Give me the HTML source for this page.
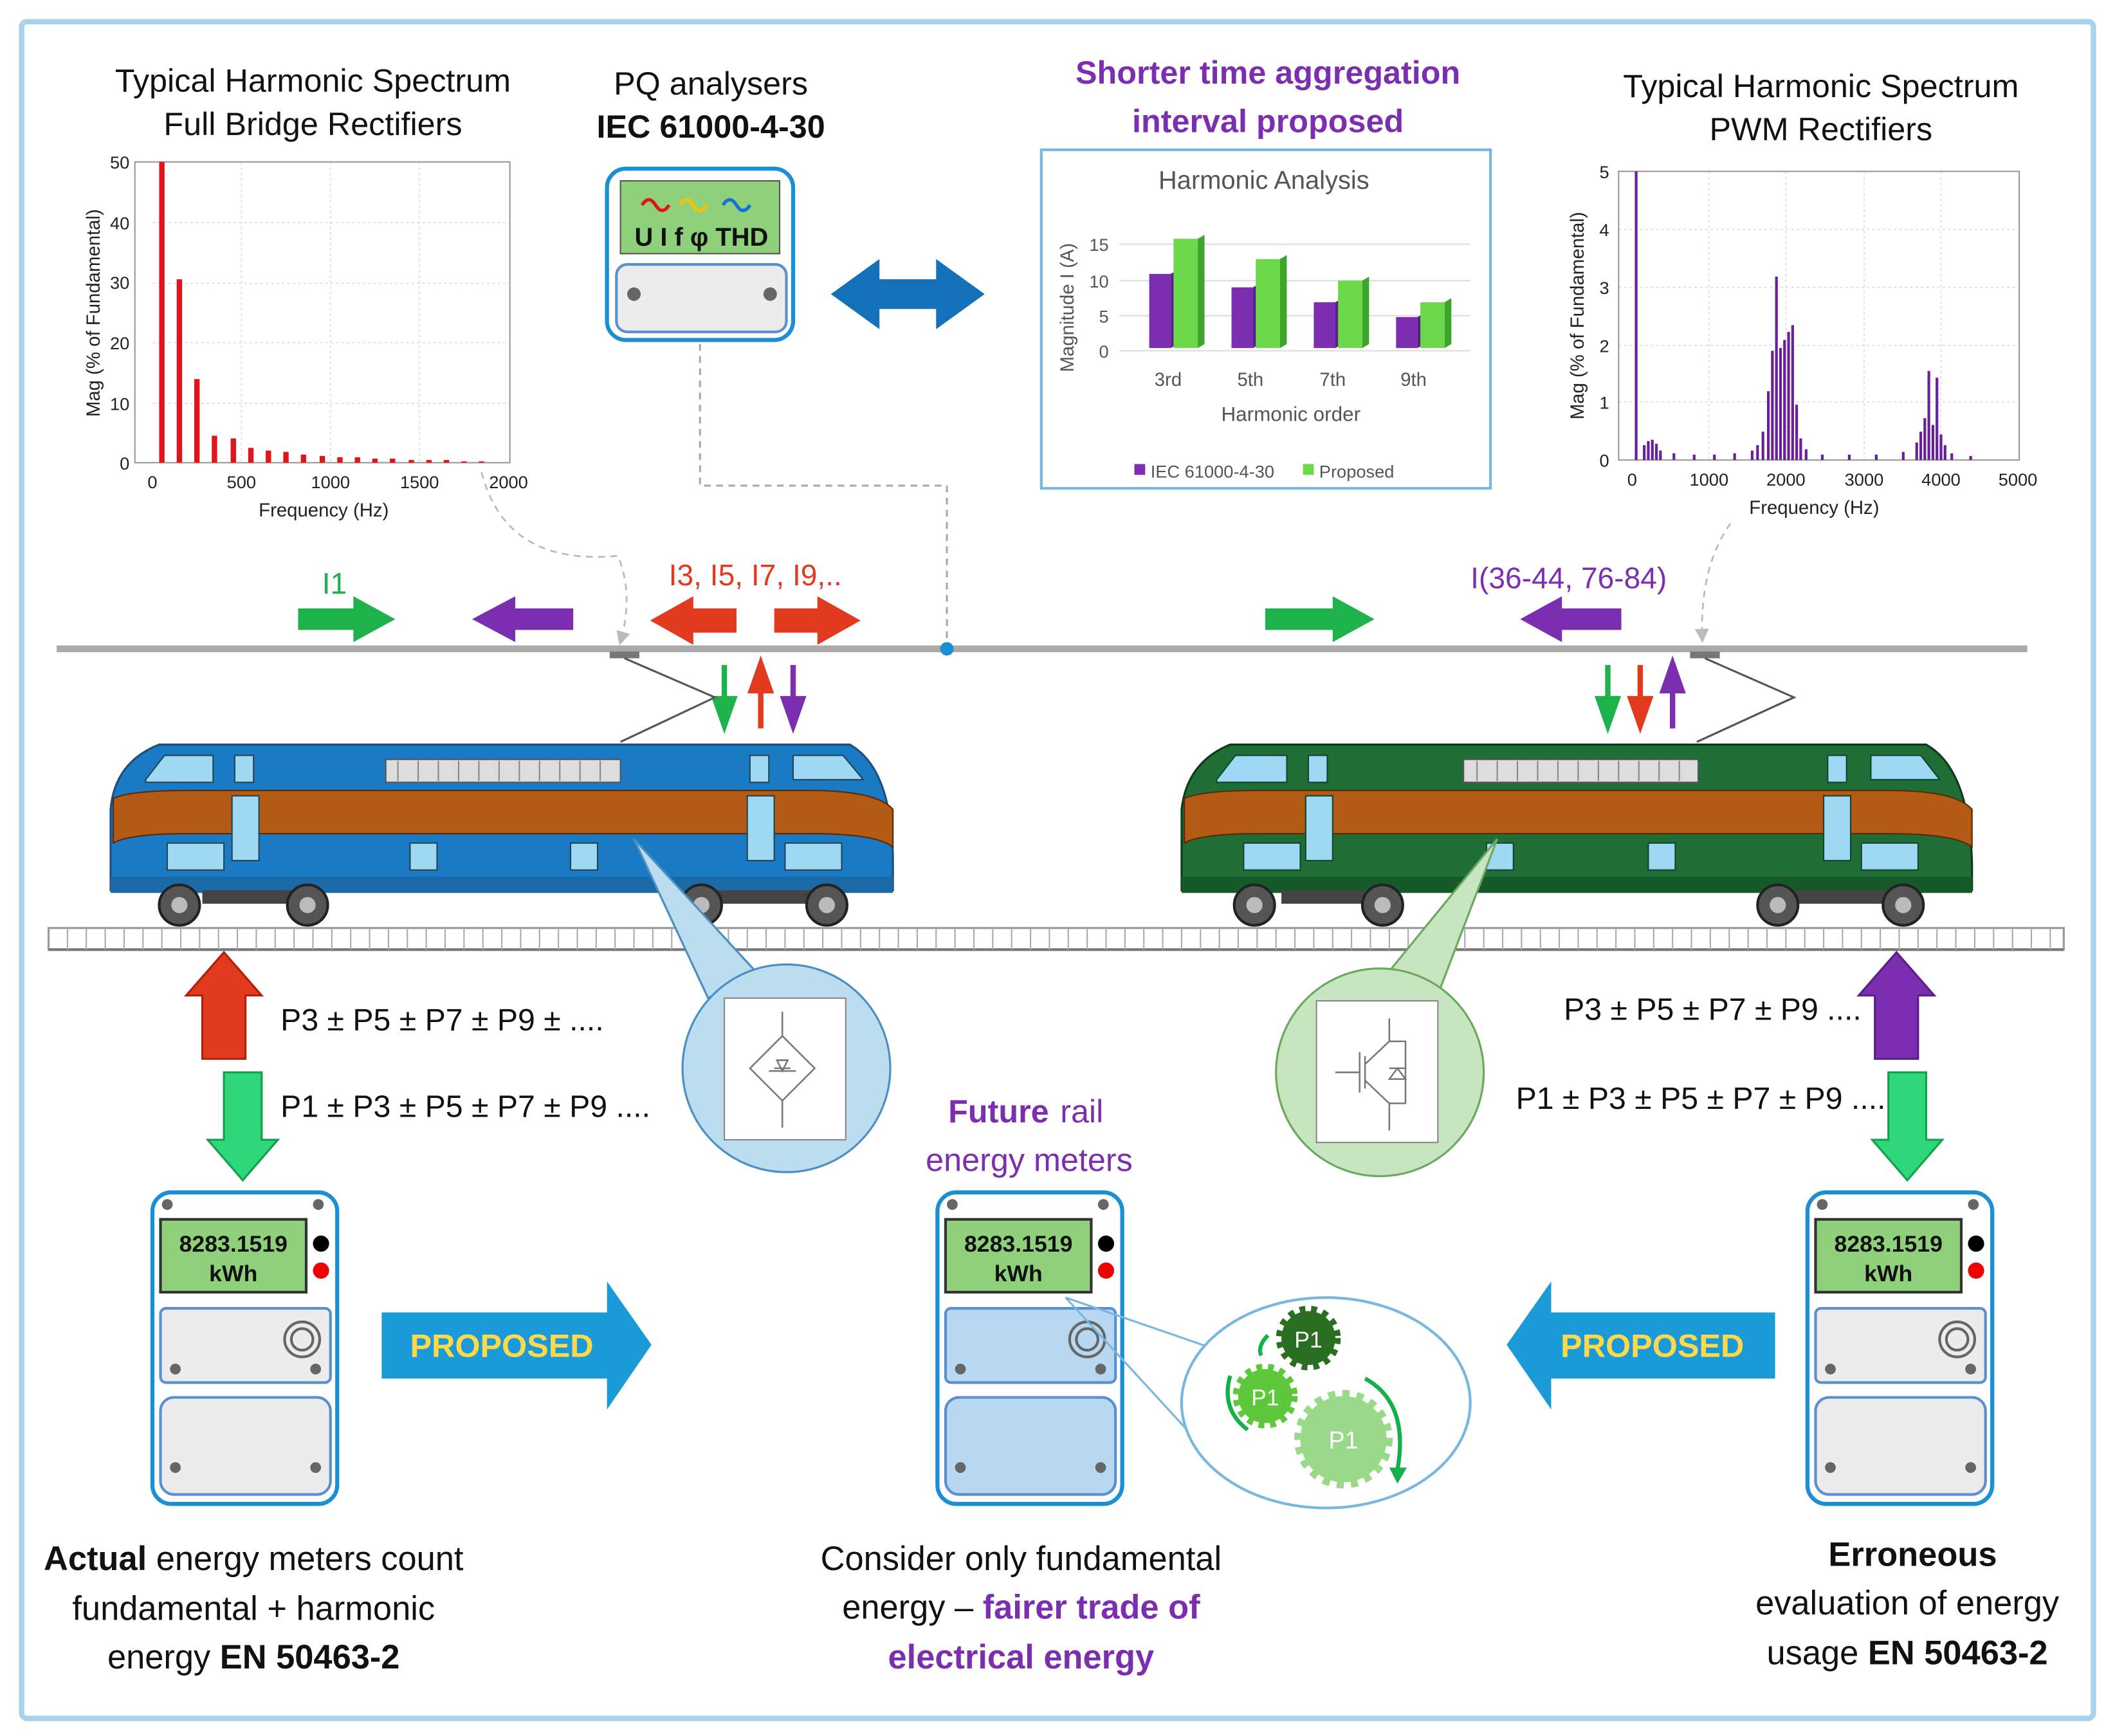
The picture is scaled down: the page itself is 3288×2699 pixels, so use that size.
<!DOCTYPE html>
<html><head><meta charset="utf-8"><style>
html,body{margin:0;padding:0;background:#fff}
svg{display:block}
text{font-family:"Liberation Sans",sans-serif}
</style></head><body>
<svg width="3288" height="2699" viewBox="0 0 1568 1287" xmlns="http://www.w3.org/2000/svg">
<defs>
<marker id="ah" markerWidth="8" markerHeight="8" refX="6" refY="4" orient="auto"><path d="M0,0 L8,4 L0,8 z" fill="#bbb"/></marker>
</defs>
<rect x="16" y="16" width="1536" height="1258" rx="4" fill="#fff" stroke="#a9d3ec" stroke-width="4"/>

<!-- Left chart -->
<text x="232" y="68" font-size="24" text-anchor="middle" fill="#111">Typical Harmonic Spectrum</text>
<text x="232" y="100" font-size="24" text-anchor="middle" fill="#111">Full Bridge Rectifiers</text>
<g stroke="#e3e3e3" stroke-width="1" stroke-dasharray="2,2">
<line x1="113" y1="165" x2="378" y2="165"/><line x1="113" y1="210" x2="378" y2="210"/><line x1="113" y1="254" x2="378" y2="254"/><line x1="113" y1="299" x2="378" y2="299"/>
<line x1="179" y1="120" x2="179" y2="343"/><line x1="245" y1="120" x2="245" y2="343"/><line x1="311" y1="120" x2="311" y2="343"/>
</g>
<rect x="100" y="120" width="278" height="223" fill="none" stroke="#999" stroke-width="1"/>
<g fill="#e0141a">
<rect x="118" y="120" width="4" height="223"/><rect x="131" y="207" width="4" height="136"/><rect x="144" y="281" width="4" height="62"/><rect x="157" y="323" width="4" height="20"/><rect x="171" y="325" width="4" height="18"/><rect x="184" y="332" width="4" height="11"/><rect x="197" y="334" width="4" height="9"/><rect x="210" y="335" width="4" height="8"/><rect x="223" y="337" width="4" height="6"/><rect x="237" y="338" width="4" height="5"/><rect x="250" y="339" width="4" height="4"/><rect x="263" y="339" width="4" height="4"/><rect x="276" y="340" width="4" height="3"/><rect x="289" y="340" width="4" height="3"/><rect x="303" y="341" width="4" height="2"/><rect x="316" y="341" width="4" height="2"/><rect x="329" y="341" width="4" height="2"/><rect x="342" y="342" width="4" height="1"/><rect x="355" y="342" width="4" height="1"/>
</g>
<g font-size="13" fill="#222" text-anchor="end">
<text x="96" y="125">50</text><text x="96" y="170">40</text><text x="96" y="214">30</text><text x="96" y="259">20</text><text x="96" y="304">10</text><text x="96" y="348">0</text>
</g>
<g font-size="13" fill="#222" text-anchor="middle">
<text x="113" y="362">0</text><text x="179" y="362">500</text><text x="245" y="362">1000</text><text x="311" y="362">1500</text><text x="377" y="362">2000</text>
</g>
<text x="240" y="383" font-size="14" text-anchor="middle" fill="#222">Frequency (Hz)</text>
<text transform="translate(74,232) rotate(-90)" font-size="14" text-anchor="middle" fill="#222">Mag (% of Fundamental)</text>

<!-- PQ analyser -->
<text x="527" y="70" font-size="24" text-anchor="middle" fill="#111">PQ analysers</text>
<text x="527" y="102" font-size="24" font-weight="bold" text-anchor="middle" fill="#111">IEC 61000-4-30</text>
<rect x="450" y="125" width="138" height="127" rx="14" fill="#fff" stroke="#1a8fd6" stroke-width="3"/>
<rect x="460" y="134" width="118" height="54" fill="#8fd17a" stroke="#555" stroke-width="1"/>
<path d="M476,152 q5,-8 10,0 t10,0" fill="none" stroke="#e0141a" stroke-width="2.5"/>
<path d="M504,152 q5,-8 10,0 t10,0" fill="none" stroke="#f5c400" stroke-width="2.5"/>
<path d="M536,152 q5,-8 10,0 t10,0" fill="none" stroke="#1a6fd6" stroke-width="2.5"/>
<text x="520" y="182" font-size="19" font-weight="bold" text-anchor="middle" fill="#111">U I f φ THD</text>
<rect x="457" y="196" width="126" height="50" rx="8" fill="#ececec" stroke="#5b8fd0" stroke-width="2"/>
<circle cx="470" cy="218" r="5" fill="#666"/><circle cx="571" cy="218" r="5" fill="#666"/>
<path d="M519,255 V360 H702 V478" fill="none" stroke="#aaa" stroke-width="1.5" stroke-dasharray="5,4"/>

<!-- double arrow -->
<path d="M616,218 L652,192 L652,207 L694,207 L694,192 L730,218 L694,244 L694,229 L652,229 L652,244 z" fill="#1470b8"/>

<!-- Harmonic analysis -->
<text x="940" y="62" font-size="24" font-weight="bold" text-anchor="middle" fill="#7b2fb0">Shorter time aggregation</text>
<text x="940" y="98" font-size="24" font-weight="bold" text-anchor="middle" fill="#7b2fb0">interval proposed</text>
<rect x="772" y="111" width="333" height="251" fill="#fff" stroke="#7ab7e0" stroke-width="2"/>
<text x="937" y="140" font-size="19" text-anchor="middle" fill="#555">Harmonic Analysis</text>
<g stroke="#ddd" stroke-width="1"><line x1="830" y1="260" x2="1090" y2="260"/><line x1="830" y1="234" x2="1090" y2="234"/><line x1="830" y1="208" x2="1090" y2="208"/><line x1="830" y1="181" x2="1090" y2="181"/></g>
<g font-size="13" fill="#555" text-anchor="end"><text x="822" y="265">0</text><text x="822" y="239">5</text><text x="822" y="213">10</text><text x="822" y="186">15</text></g>
<g>
<rect x="852" y="203" width="16" height="55" fill="#7b2fb0"/><polygon points="868,203 873,200 873,255 868,258" fill="#5a1f85"/>
<rect x="870" y="177" width="18" height="81" fill="#6cd94a"/><polygon points="888,177 893,174 893,255 888,258" fill="#3fa52a"/>
<rect x="913" y="213" width="16" height="45" fill="#7b2fb0"/><polygon points="929,213 934,210 934,255 929,258" fill="#5a1f85"/>
<rect x="931" y="192" width="18" height="66" fill="#6cd94a"/><polygon points="949,192 954,189 954,255 949,258" fill="#3fa52a"/>
<rect x="974" y="224" width="16" height="34" fill="#7b2fb0"/><polygon points="990,224 995,221 995,255 990,258" fill="#5a1f85"/>
<rect x="992" y="208" width="18" height="50" fill="#6cd94a"/><polygon points="1010,208 1015,205 1015,255 1010,258" fill="#3fa52a"/>
<rect x="1035" y="235" width="16" height="23" fill="#7b2fb0"/><polygon points="1051,235 1056,232 1056,255 1051,258" fill="#5a1f85"/>
<rect x="1053" y="224" width="18" height="34" fill="#6cd94a"/><polygon points="1071,224 1076,221 1076,255 1071,258" fill="#3fa52a"/>
</g>
<g font-size="14" fill="#555" text-anchor="middle"><text x="866" y="286">3rd</text><text x="927" y="286">5th</text><text x="988" y="286">7th</text><text x="1048" y="286">9th</text></g>
<text x="957" y="312" font-size="15" text-anchor="middle" fill="#555">Harmonic order</text>
<text transform="translate(796,228) rotate(-90)" font-size="14" text-anchor="middle" fill="#555">Magnitude I (A)</text>
<rect x="841" y="344" width="8" height="8" fill="#7b2fb0"/><text x="853" y="354" font-size="13" fill="#555">IEC 61000-4-30</text>
<rect x="966" y="344" width="8" height="8" fill="#6cd94a"/><text x="978" y="354" font-size="13" fill="#555">Proposed</text>

<!-- Right chart -->
<text x="1350" y="72" font-size="24" text-anchor="middle" fill="#111">Typical Harmonic Spectrum</text>
<text x="1350" y="104" font-size="24" text-anchor="middle" fill="#111">PWM Rectifiers</text>
<g stroke="#e3e3e3" stroke-width="1" stroke-dasharray="2,2">
<line x1="1200" y1="170" x2="1497" y2="170"/><line x1="1200" y1="213" x2="1497" y2="213"/><line x1="1200" y1="256" x2="1497" y2="256"/><line x1="1200" y1="298" x2="1497" y2="298"/>
<line x1="1267" y1="127" x2="1267" y2="341"/><line x1="1324" y1="127" x2="1324" y2="341"/><line x1="1382" y1="127" x2="1382" y2="341"/><line x1="1439" y1="127" x2="1439" y2="341"/>
</g>
<rect x="1200" y="127" width="297" height="214" fill="none" stroke="#999" stroke-width="1"/>
<g fill="#6a1f9a">
<rect x="1212" y="127" width="2" height="214"/>
<rect x="1218" y="330" width="2" height="11"/><rect x="1221" y="327" width="2" height="14"/><rect x="1224" y="326" width="2" height="15"/><rect x="1227" y="329" width="2" height="12"/><rect x="1230" y="334" width="2" height="7"/>
<rect x="1240" y="336" width="2" height="5"/><rect x="1255" y="337" width="2" height="4"/><rect x="1270" y="337" width="2" height="4"/><rect x="1285" y="336" width="2" height="5"/>
<rect x="1298" y="334" width="2" height="7"/><rect x="1302" y="330" width="2" height="11"/><rect x="1306" y="320" width="2" height="21"/><rect x="1310" y="290" width="2" height="51"/><rect x="1313" y="260" width="2" height="81"/><rect x="1316" y="205" width="2" height="136"/><rect x="1319" y="258" width="2" height="83"/><rect x="1322" y="252" width="2" height="89"/><rect x="1325" y="246" width="2" height="95"/><rect x="1328" y="241" width="2" height="100"/><rect x="1331" y="300" width="2" height="41"/><rect x="1334" y="325" width="2" height="16"/><rect x="1338" y="333" width="2" height="8"/>
<rect x="1350" y="337" width="2" height="4"/><rect x="1370" y="337" width="2" height="4"/><rect x="1390" y="337" width="2" height="4"/><rect x="1410" y="335" width="2" height="6"/>
<rect x="1420" y="328" width="2" height="13"/><rect x="1423" y="320" width="2" height="21"/><rect x="1426" y="310" width="2" height="31"/><rect x="1429" y="275" width="2" height="66"/><rect x="1432" y="315" width="2" height="26"/><rect x="1435" y="280" width="2" height="61"/><rect x="1438" y="322" width="2" height="19"/><rect x="1441" y="330" width="2" height="11"/><rect x="1446" y="336" width="2" height="5"/><rect x="1460" y="338" width="2" height="3"/>
</g>
<g font-size="13" fill="#222" text-anchor="end">
<text x="1193" y="132">5</text><text x="1193" y="175">4</text><text x="1193" y="218">3</text><text x="1193" y="261">2</text><text x="1193" y="303">1</text><text x="1193" y="346">0</text>
</g>
<g font-size="13" fill="#222" text-anchor="middle">
<text x="1210" y="360">0</text><text x="1267" y="360">1000</text><text x="1324" y="360">2000</text><text x="1382" y="360">3000</text><text x="1439" y="360">4000</text><text x="1496" y="360">5000</text>
</g>
<text x="1345" y="381" font-size="14" text-anchor="middle" fill="#222">Frequency (Hz)</text>
<text transform="translate(1174,234) rotate(-90)" font-size="14" text-anchor="middle" fill="#222">Mag (% of Fundamental)</text>

<!-- dashed connectors to pantographs -->
<path d="M357,350 Q375,420 458,412 Q470,440 460,476" fill="none" stroke="#bbb" stroke-width="1.3" stroke-dasharray="5,4" marker-end="url(#ah)"/>
<path d="M1283,388 Q1260,420 1262,474" fill="none" stroke="#bbb" stroke-width="1.3" stroke-dasharray="5,4" marker-end="url(#ah)"/>

<!-- catenary -->
<line x1="42" y1="481" x2="1503" y2="481" stroke="#aaa" stroke-width="5"/>
<circle cx="702" cy="481" r="5" fill="#1a8fd6"/>

<!-- current arrows -->
<text x="248" y="440" font-size="22" text-anchor="middle" fill="#1db34a">I1</text>
<path d="M221,451 H262 V442 L293,459 L262,476 V467 H221 z" fill="#1db34a"/>
<path d="M425,451 H382 V442 L350,459 L382,476 V467 H425 z" fill="#7b2fb0"/>
<text x="560" y="434" font-size="22" text-anchor="middle" fill="#e23a1e">I3, I5, I7, I9,..</text>
<path d="M546,451 H514 V442 L482,460 L514,478 V469 H546 z" fill="#e23a1e"/>
<path d="M574,451 H606 V442 L638,460 L606,478 V469 H574 z" fill="#e23a1e"/>
<path d="M938,451 H988 V442 L1019,459 L988,476 V467 H938 z" fill="#1db34a"/>
<text x="1163" y="436" font-size="22" text-anchor="middle" fill="#7b2fb0">I(36-44, 76-84)</text>
<path d="M1202,451 H1158 V442 L1127,459 L1158,476 V467 H1202 z" fill="#7b2fb0"/>
<!-- vertical small arrows -->
<path d="M537,493 V522 M530,518 L537,538 L544,518 z" stroke="#1db34a" stroke-width="4" fill="#1db34a"/>
<path d="M564,540 V510 M557,512 L564,492 L571,512 z" stroke="#e23a1e" stroke-width="4" fill="#e23a1e"/>
<path d="M588,493 V522 M581,518 L588,538 L595,518 z" stroke="#7b2fb0" stroke-width="4" fill="#7b2fb0"/>
<path d="M1192,493 V522 M1185,518 L1192,538 L1199,518 z" stroke="#1db34a" stroke-width="4" fill="#1db34a"/>
<path d="M1216,493 V522 M1209,518 L1216,538 L1223,518 z" stroke="#e23a1e" stroke-width="4" fill="#e23a1e"/>
<path d="M1240,540 V510 M1233,512 L1240,492 L1247,512 z" stroke="#7b2fb0" stroke-width="4" fill="#7b2fb0"/>

<!-- pantographs -->
<rect x="452" y="483" width="22" height="5" fill="#777"/>
<path d="M463,488 L530,517 L460,550" fill="none" stroke="#555" stroke-width="1.5"/>
<rect x="1253" y="483" width="22" height="5" fill="#777"/>
<path d="M1264,488 L1330,517 L1258,550" fill="none" stroke="#555" stroke-width="1.5"/>

<!-- Blue train -->
<g>
<path d="M118,552 H630 Q662,570 662,640 V660 H82 V600 Q85,565 118,552 z" fill="#1a7ac4" stroke="#1d4e80" stroke-width="1.5"/>
<path d="M84,592 Q96,586 140,586 H600 Q650,586 662,600 V628 Q650,618 600,618 H140 Q96,618 84,625 z" fill="#b35a14" stroke="#5a2a05" stroke-width="1"/>
<rect x="286" y="563" width="174" height="17" fill="#ddd" stroke="#555" stroke-width="1"/>
<g stroke="#888" stroke-width="1"><line x1="295" y1="564" x2="295" y2="579"/><line x1="310" y1="564" x2="310" y2="579"/><line x1="325" y1="564" x2="325" y2="579"/><line x1="340" y1="564" x2="340" y2="579"/><line x1="355" y1="564" x2="355" y2="579"/><line x1="370" y1="564" x2="370" y2="579"/><line x1="385" y1="564" x2="385" y2="579"/><line x1="400" y1="564" x2="400" y2="579"/><line x1="415" y1="564" x2="415" y2="579"/><line x1="430" y1="564" x2="430" y2="579"/><line x1="445" y1="564" x2="445" y2="579"/></g>
<g fill="#9fd8f2" stroke="#245" stroke-width="1">
<path d="M108,578 L122,560 H158 V580 H108 z"/><rect x="174" y="560" width="14" height="20"/><rect x="556" y="560" width="14" height="20"/><path d="M588,560 H625 L640,578 H588 z"/>
<rect x="172" y="590" width="20" height="48"/><rect x="554" y="590" width="20" height="48"/>
<rect x="124" y="625" width="42" height="20"/><rect x="304" y="625" width="20" height="20"/><rect x="423" y="625" width="20" height="20"/><rect x="582" y="625" width="42" height="20"/>
</g>
<rect x="82" y="650" width="580" height="12" fill="#1a6aa8"/>
<g fill="#444"><rect x="150" y="660" width="70" height="10"/><rect x="510" y="660" width="100" height="10"/></g>
<g fill="#555" stroke="#222" stroke-width="2"><circle cx="133" cy="671" r="15"/><circle cx="228" cy="671" r="15"/><circle cx="520" cy="671" r="15"/><circle cx="613" cy="671" r="15"/></g>
<g fill="#bbb"><circle cx="133" cy="671" r="6"/><circle cx="228" cy="671" r="6"/><circle cx="520" cy="671" r="6"/><circle cx="613" cy="671" r="6"/></g>
</g>

<!-- Green train -->
<g>
<path d="M912,552 H1428 Q1460,570 1462,640 V660 H876 V600 Q880,565 912,552 z" fill="#1f6e35" stroke="#0d3a18" stroke-width="1.5"/>
<path d="M878,592 Q890,586 934,586 H1400 Q1450,586 1462,600 V628 Q1450,618 1400,618 H934 Q890,618 878,625 z" fill="#b35a14" stroke="#5a2a05" stroke-width="1"/>
<rect x="1085" y="563" width="174" height="17" fill="#ddd" stroke="#555" stroke-width="1"/>
<g stroke="#888" stroke-width="1"><line x1="1095" y1="564" x2="1095" y2="579"/><line x1="1110" y1="564" x2="1110" y2="579"/><line x1="1125" y1="564" x2="1125" y2="579"/><line x1="1140" y1="564" x2="1140" y2="579"/><line x1="1155" y1="564" x2="1155" y2="579"/><line x1="1170" y1="564" x2="1170" y2="579"/><line x1="1185" y1="564" x2="1185" y2="579"/><line x1="1200" y1="564" x2="1200" y2="579"/><line x1="1215" y1="564" x2="1215" y2="579"/><line x1="1230" y1="564" x2="1230" y2="579"/><line x1="1245" y1="564" x2="1245" y2="579"/></g>
<g fill="#9fd8f2" stroke="#143" stroke-width="1">
<path d="M902,578 L916,560 H954 V580 H902 z"/><rect x="970" y="560" width="14" height="20"/><rect x="1355" y="560" width="14" height="20"/><path d="M1387,560 H1424 L1438,578 H1387 z"/>
<rect x="968" y="590" width="20" height="48"/><rect x="1352" y="590" width="20" height="48"/>
<rect x="922" y="625" width="42" height="20"/><rect x="1102" y="625" width="20" height="20"/><rect x="1222" y="625" width="20" height="20"/><rect x="1380" y="625" width="42" height="20"/>
</g>
<rect x="876" y="650" width="586" height="12" fill="#175a2a"/>
<g fill="#444"><rect x="950" y="660" width="70" height="10"/><rect x="1310" y="660" width="100" height="10"/></g>
<g fill="#555" stroke="#222" stroke-width="2"><circle cx="930" cy="671" r="15"/><circle cx="1025" cy="671" r="15"/><circle cx="1318" cy="671" r="15"/><circle cx="1411" cy="671" r="15"/></g>
<g fill="#bbb"><circle cx="930" cy="671" r="6"/><circle cx="1025" cy="671" r="6"/><circle cx="1318" cy="671" r="6"/><circle cx="1411" cy="671" r="6"/></g>
</g>

<!-- track -->
<rect x="36" y="688" width="1494" height="16" fill="#fff" stroke="#999" stroke-width="1.5"/>
<path d="M36,704 H1530" stroke="#777" stroke-width="2"/>
<g id="ties" stroke="#aaa" stroke-width="1"></g>
<path d="M50,688 V704 M64,688 V704 M78,688 V704 M92,688 V704 M106,688 V704 M120,688 V704 M134,688 V704 M148,688 V704 M162,688 V704 M176,688 V704 M190,688 V704 M204,688 V704 M218,688 V704 M232,688 V704 M246,688 V704 M260,688 V704 M274,688 V704 M288,688 V704 M302,688 V704 M316,688 V704 M330,688 V704 M344,688 V704 M358,688 V704 M372,688 V704 M386,688 V704 M400,688 V704 M414,688 V704 M428,688 V704 M442,688 V704 M456,688 V704 M470,688 V704 M484,688 V704 M498,688 V704 M512,688 V704 M526,688 V704 M540,688 V704 M554,688 V704 M568,688 V704 M582,688 V704 M596,688 V704 M610,688 V704 M624,688 V704 M638,688 V704 M652,688 V704 M666,688 V704 M680,688 V704 M694,688 V704 M708,688 V704 M722,688 V704 M736,688 V704 M750,688 V704 M764,688 V704 M778,688 V704 M792,688 V704 M806,688 V704 M820,688 V704 M834,688 V704 M848,688 V704 M862,688 V704 M876,688 V704 M890,688 V704 M904,688 V704 M918,688 V704 M932,688 V704 M946,688 V704 M960,688 V704 M974,688 V704 M988,688 V704 M1002,688 V704 M1016,688 V704 M1030,688 V704 M1044,688 V704 M1058,688 V704 M1072,688 V704 M1086,688 V704 M1100,688 V704 M1114,688 V704 M1128,688 V704 M1142,688 V704 M1156,688 V704 M1170,688 V704 M1184,688 V704 M1198,688 V704 M1212,688 V704 M1226,688 V704 M1240,688 V704 M1254,688 V704 M1268,688 V704 M1282,688 V704 M1296,688 V704 M1310,688 V704 M1324,688 V704 M1338,688 V704 M1352,688 V704 M1366,688 V704 M1380,688 V704 M1394,688 V704 M1408,688 V704 M1422,688 V704 M1436,688 V704 M1450,688 V704 M1464,688 V704 M1478,688 V704 M1492,688 V704 M1506,688 V704 M1520,688 V704" stroke="#aaa" stroke-width="1"/>

<!-- bubbles -->
<path d="M470,622 L525,740 L560,720 z" fill="#bcdcf0" stroke="#4a8fc4" stroke-width="1.5"/>
<circle cx="583" cy="792" r="77" fill="#bcdcf0" stroke="#4a8fc4" stroke-width="1.5"/>
<rect x="537" y="740" width="90" height="105" fill="#fff" stroke="#888" stroke-width="1"/>
<g stroke="#777" stroke-width="1.2" fill="none"><path d="M580,750 V768 L556,792 L580,816 L604,792 L580,768 M580,816 V836"/><path d="M574,792 L586,792 M576,786 L584,786 L580,794 z M570,794 H590"/></g>
<path d="M1110,622 L1065,740 L1030,720 z" fill="#c7e6c0" stroke="#6aa860" stroke-width="1.5"/>
<circle cx="1023" cy="795" r="77" fill="#c7e6c0" stroke="#6aa860" stroke-width="1.5"/>
<rect x="976" y="742" width="90" height="105" fill="#fff" stroke="#888" stroke-width="1"/>
<g stroke="#777" stroke-width="1.2" fill="none"><path d="M990,795 H1008 M1008,780 V810 M1012,783 V807 M1012,789 L1030,772 V755 M1012,801 L1030,818 V838 M1030,772 H1042 V818 H1030 M1036,792 L1042,800 H1030 z M1030,792 H1042"/></g>

<!-- big vertical arrows -->
<path d="M150,785 V738 H138 L166,706 L194,738 H182 V785 z" fill="#e23a1e" stroke="#b0200a" stroke-width="1.5"/>
<path d="M166,795 V845 H154 L180,875 L206,845 H194 V795 z" fill="#2ed87a" stroke="#14a04a" stroke-width="1.5"/>
<text x="208" y="764" font-size="23" fill="#111">P3 ± P5 ± P7 ± P9 ± ....</text>
<text x="208" y="828" font-size="23" fill="#111">P1 ± P3 ± P5 ± P7 ± P9 ....</text>
<path d="M1390,785 V738 H1378 L1406,706 L1434,738 H1422 V785 z" fill="#7b2fb0" stroke="#5a1f85" stroke-width="1.5"/>
<path d="M1400,795 V845 H1388 L1414,875 L1440,845 H1428 V795 z" fill="#2ed87a" stroke="#14a04a" stroke-width="1.5"/>
<text x="1380" y="756" font-size="23" text-anchor="end" fill="#111">P3 ± P5 ± P7 ± P9 ....</text>
<text x="1398" y="822" font-size="23" text-anchor="end" fill="#111">P1 ± P3 ± P5 ± P7 ± P9 ....</text>

<!-- meters -->
<g>
<rect x="113" y="884" width="137" height="231" rx="14" fill="#fff" stroke="#1a8fd6" stroke-width="3"/>
<circle cx="124" cy="893" r="4" fill="#666"/><circle cx="236" cy="893" r="4" fill="#666"/>
<rect x="119" y="904" width="108" height="54" fill="#8fd17a" stroke="#333" stroke-width="2"/>
<text x="173" y="928" font-size="17" font-weight="bold" text-anchor="middle" fill="#111">8283.1519</text>
<text x="173" y="950" font-size="17" font-weight="bold" text-anchor="middle" fill="#111">kWh</text>
<circle cx="238" cy="922" r="6" fill="#000"/><circle cx="238" cy="942" r="6" fill="#e00"/>
<rect x="119" y="970" width="126" height="55" rx="4" fill="#ececec" stroke="#5b8fd0" stroke-width="2"/>
<circle cx="224" cy="993" r="13" fill="none" stroke="#666" stroke-width="2"/><circle cx="224" cy="993" r="8" fill="none" stroke="#666" stroke-width="2"/>
<circle cx="130" cy="1015" r="4" fill="#666"/><circle cx="234" cy="1015" r="4" fill="#666"/>
<rect x="119" y="1036" width="126" height="72" rx="10" fill="#ececec" stroke="#5b8fd0" stroke-width="2"/>
<circle cx="130" cy="1088" r="4" fill="#666"/><circle cx="234" cy="1088" r="4" fill="#666"/>
</g>
<g transform="translate(582,0)">
<rect x="113" y="884" width="137" height="231" rx="14" fill="#fff" stroke="#1a8fd6" stroke-width="3"/>
<circle cx="124" cy="893" r="4" fill="#666"/><circle cx="236" cy="893" r="4" fill="#666"/>
<rect x="119" y="904" width="108" height="54" fill="#8fd17a" stroke="#333" stroke-width="2"/>
<text x="173" y="928" font-size="17" font-weight="bold" text-anchor="middle" fill="#111">8283.1519</text>
<text x="173" y="950" font-size="17" font-weight="bold" text-anchor="middle" fill="#111">kWh</text>
<circle cx="238" cy="922" r="6" fill="#000"/><circle cx="238" cy="942" r="6" fill="#e00"/>
<rect x="119" y="970" width="126" height="55" rx="4" fill="#b8d8f2" stroke="#5b8fd0" stroke-width="2"/>
<circle cx="224" cy="993" r="13" fill="none" stroke="#666" stroke-width="2"/><circle cx="224" cy="993" r="8" fill="none" stroke="#666" stroke-width="2"/>
<circle cx="130" cy="1015" r="4" fill="#666"/><circle cx="234" cy="1015" r="4" fill="#666"/>
<rect x="119" y="1036" width="126" height="72" rx="10" fill="#b8d8f2" stroke="#5b8fd0" stroke-width="2"/>
<circle cx="130" cy="1088" r="4" fill="#666"/><circle cx="234" cy="1088" r="4" fill="#666"/>
</g>
<g transform="translate(1227,0)">
<rect x="113" y="884" width="137" height="231" rx="14" fill="#fff" stroke="#1a8fd6" stroke-width="3"/>
<circle cx="124" cy="893" r="4" fill="#666"/><circle cx="236" cy="893" r="4" fill="#666"/>
<rect x="119" y="904" width="108" height="54" fill="#8fd17a" stroke="#333" stroke-width="2"/>
<text x="173" y="928" font-size="17" font-weight="bold" text-anchor="middle" fill="#111">8283.1519</text>
<text x="173" y="950" font-size="17" font-weight="bold" text-anchor="middle" fill="#111">kWh</text>
<circle cx="238" cy="922" r="6" fill="#000"/><circle cx="238" cy="942" r="6" fill="#e00"/>
<rect x="119" y="970" width="126" height="55" rx="4" fill="#ececec" stroke="#5b8fd0" stroke-width="2"/>
<circle cx="224" cy="993" r="13" fill="none" stroke="#666" stroke-width="2"/><circle cx="224" cy="993" r="8" fill="none" stroke="#666" stroke-width="2"/>
<circle cx="130" cy="1015" r="4" fill="#666"/><circle cx="234" cy="1015" r="4" fill="#666"/>
<rect x="119" y="1036" width="126" height="72" rx="10" fill="#ececec" stroke="#5b8fd0" stroke-width="2"/>
<circle cx="130" cy="1088" r="4" fill="#666"/><circle cx="234" cy="1088" r="4" fill="#666"/>
</g>

<!-- PROPOSED arrows -->
<path d="M283,973 H450 V950 L483,997 L450,1045 V1022 H283 z" fill="#1a9ad6"/>
<text x="372" y="1006" font-size="24" font-weight="bold" text-anchor="middle" fill="#ffd94a">PROPOSED</text>
<path d="M1316,973 H1150 V950 L1117,997 L1150,1045 V1022 H1316 z" fill="#1a9ad6"/>
<text x="1225" y="1006" font-size="24" font-weight="bold" text-anchor="middle" fill="#ffd94a">PROPOSED</text>

<!-- future meter label -->
<text x="703" y="832" font-size="24" font-weight="bold" fill="#7b2fb0">Future</text><text x="786" y="832" font-size="24" fill="#7b2fb0"> rail</text>
<text x="763" y="868" font-size="24" text-anchor="middle" fill="#7b2fb0">energy meters</text>

<!-- gears ellipse -->
<path d="M790,962 L900,1000 M790,962 L880,1060" stroke="#7ab7e0" stroke-width="1.5"/>
<ellipse cx="983" cy="1040" rx="107" ry="78" fill="#fff" stroke="#7ab7e0" stroke-width="2"/>
<g>
<circle cx="970" cy="992" r="20" fill="#2a6e22" stroke="#2a6e22" stroke-width="8" stroke-dasharray="4,4"/>
<text x="970" y="999" font-size="17" text-anchor="middle" fill="#fff">P1</text>
<circle cx="938" cy="1035" r="20" fill="#5cc83a" stroke="#5cc83a" stroke-width="8" stroke-dasharray="4,4"/>
<text x="938" y="1042" font-size="17" text-anchor="middle" fill="#fff">P1</text>
<circle cx="996" cy="1067" r="32" fill="#9ad98a" stroke="#9ad98a" stroke-width="9" stroke-dasharray="5,5"/>
<text x="996" y="1074" font-size="18" text-anchor="middle" fill="#fff">P1</text>
<path d="M940,990 Q932,998 935,1005" fill="none" stroke="#14b04a" stroke-width="3"/>
<path d="M912,1020 Q905,1045 925,1060" fill="none" stroke="#14b04a" stroke-width="3"/>
<path d="M1012,1022 Q1045,1040 1036,1090" fill="none" stroke="#14b04a" stroke-width="3"/>
<path d="M1030,1088 L1036,1100 L1043,1088 z" fill="#14b04a"/>
</g>

<!-- bottom texts -->
<text x="188" y="1164" font-size="25" text-anchor="middle" fill="#111"><tspan font-weight="bold">Actual</tspan> energy meters count</text>
<text x="188" y="1201" font-size="25" text-anchor="middle" fill="#111">fundamental + harmonic</text>
<text x="188" y="1237" font-size="25" text-anchor="middle" fill="#111">energy <tspan font-weight="bold">EN 50463-2</tspan></text>
<text x="757" y="1164" font-size="25" text-anchor="middle" fill="#111">Consider only fundamental</text>
<text x="757" y="1200" font-size="25" text-anchor="middle" fill="#111">energy – <tspan font-weight="bold" fill="#7b2fb0">fairer trade of</tspan></text>
<text x="757" y="1237" font-size="25" font-weight="bold" text-anchor="middle" fill="#7b2fb0">electrical energy</text>
<text x="1418" y="1161" font-size="25" font-weight="bold" text-anchor="middle" fill="#111">Erroneous</text>
<text x="1414" y="1197" font-size="25" text-anchor="middle" fill="#111">evaluation of energy</text>
<text x="1414" y="1234" font-size="25" text-anchor="middle" fill="#111">usage <tspan font-weight="bold">EN 50463-2</tspan></text>
</svg>
</body></html>
